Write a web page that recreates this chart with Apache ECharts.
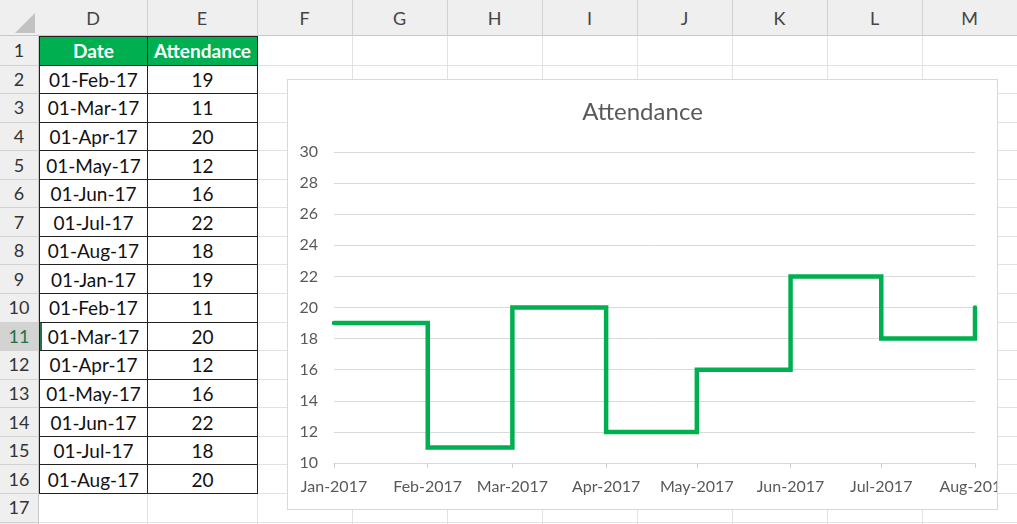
<!DOCTYPE html>
<html>
<head>
<meta charset="utf-8">
<script src="https://cdn.jsdelivr.net/npm/echarts@6/dist/echarts.min.js"></script>
<style>
body{margin:0;width:1017px;height:524px;overflow:hidden;background:#fff;font-family:Lato,sans-serif;position:relative}
#sheet{position:absolute;left:0;top:0;width:1017px;height:524px}
.c{position:absolute;box-sizing:border-box;display:flex;align-items:center;justify-content:center;white-space:nowrap}
#chart{position:absolute;left:287px;top:79px;width:711px;height:431px;box-sizing:border-box;border:1px solid #d9d9d9;background:#fff}
</style>
</head>
<body>
<div id="sheet"></div>
<div id="chart"></div>
<script>
// spreadsheet data (D1:E16)
var tableHeader = ['Date', 'Attendance'];
var tableDates = ['01-Feb-17','01-Mar-17','01-Apr-17','01-May-17','01-Jun-17','01-Jul-17','01-Aug-17',
	'01-Jan-17','01-Feb-17','01-Mar-17','01-Apr-17','01-May-17','01-Jun-17','01-Jul-17','01-Aug-17'];
var tableValues = [19, 11, 20, 12, 16, 22, 18, 19, 11, 20, 12, 16, 22, 18, 20];
var colLetters = ['D','E','F','G','H','I','J','K','L','M'];

// chart data
var months = ['2017-01-01','2017-02-01','2017-03-01','2017-04-01','2017-05-01','2017-06-01','2017-07-01','2017-08-01'];
var attendance = [19, 11, 20, 12, 16, 22, 18, 20];
var monthNames = ['Jan','Feb','Mar','Apr','May','Jun','Jul','Aug','Sep','Oct','Nov','Dec'];

//表格
var sheet = document.getElementById('sheet');
var colX = [0, 39, 147, 257, 352, 447, 542, 637, 732, 827, 922, 1017];
var headH = 36, rowH = 28.56, nRows = 17;
function rowTop(r){ return headH + (r - 1) * rowH; }
function box(x, y, w, h, css, text){
	var d = document.createElement('div');
	d.className = 'c';
	d.style.cssText = 'left:' + x + 'px;top:' + y + 'px;width:' + w + 'px;height:' + h + 'px;' + (css || '');
	if (text != null) d.textContent = text;
	sheet.appendChild(d);
	return d;
}

// headers background
box(0, 0, 1017, headH, 'background:#efefef;border-bottom:1px solid #c8c8c8');
box(0, headH, colX[1], 524 - headH, 'background:#efefef;border-right:1px solid #c8c8c8');
// corner triangle
box(15, 13, 0, 0, 'border-left:20px solid transparent;border-bottom:20px solid #c2c2c2');

// grid lines
for (var i = 2; i < colX.length - 1; i++) {
	box(colX[i], 0, 1, headH, 'background:#d2d2d2');
	box(colX[i], headH, 1, 524 - headH, 'background:#e2e2e2');
}
for (var r = 2; r <= nRows + 1; r++) {
	box(0, rowTop(r), colX[1], 1, 'background:#d2d2d2');
	box(colX[1], rowTop(r), 1017 - colX[1], 1, 'background:#e2e2e2');
}
// column letters
for (var i = 0; i < colLetters.length; i++) {
	box(colX[i + 1], 0, colX[i + 2] - colX[i + 1], headH, 'font-size:18px;color:#444', colLetters[i]);
}
// row numbers
for (var r = 1; r <= nRows; r++) {
	var sel = r === 11;
	box(0, rowTop(r) + (sel ? 1 : 0), colX[1] - 1, rowH - (sel ? 1 : 0),
		'font-size:18px;' + (sel ? 'background:#d3d3d3;color:#217346' : 'color:#333'), String(r));
}

// table
var wD = colX[2] - colX[1], wE = colX[3] - colX[2];
box(colX[1], rowTop(1), wD + 1, rowH + 1, 'background:#00b050;color:#fff;font-weight:bold;font-size:19px;border:1px solid #222', tableHeader[0]);
box(colX[2], rowTop(1), wE + 1, rowH + 1, 'background:#00b050;color:#fff;font-weight:bold;font-size:19px;border:1px solid #222', tableHeader[1]);
for (var k = 0; k < tableDates.length; k++) {
	box(colX[1], rowTop(k + 2), wD + 1, rowH + 1, 'font-size:19px;color:#111;border:1px solid #222', tableDates[k]);
	box(colX[2], rowTop(k + 2), wE + 1, rowH + 1, 'font-size:19px;color:#111;border:1px solid #222', String(tableValues[k]));
}
// selected cell marker D11
box(colX[1] + 1, rowTop(11) + 1, 2, rowH - 1, 'background:#217346');

//阶梯图
var monthTicks = months.map(function(m){ return new Date(m + 'T00:00:00').getTime(); });
var chart = echarts.init(document.getElementById('chart'));
var option = {
	animation: false,
	textStyle: { fontFamily: 'Lato, sans-serif' },
	title: {
		text: 'Attendance',
		left: 'center',
		top: 20,
		padding: 0,
		textStyle: { color: '#595959', fontSize: 24, fontWeight: 'normal' }
	},
	grid: { left: 46, right: 22, top: 72, bottom: 46, outerBoundsMode: 'none', containLabel: false },
	xAxis: {
		type: 'value',
		min: monthTicks[0],
		max: monthTicks[monthTicks.length - 1],
		axisLine: { show: true, lineStyle: { color: '#d9d9d9' } },
		axisTick: { show: true, customValues: monthTicks, length: 5, lineStyle: { color: '#d0d0d0' } },
		axisLabel: {
			customValues: monthTicks,
			color: '#595959',
			fontSize: 16,
			margin: 16,
			hideOverlap: false,
			formatter: function(v){
				var d = new Date(v);
				return monthNames[d.getMonth()] + '-' + d.getFullYear();
			}
		},
		splitLine: { show: false }
	},
	yAxis: {
		type: 'value',
		min: 10,
		max: 30,
		interval: 2,
		axisLine: { show: false },
		axisTick: { show: false },
		axisLabel: { color: '#595959', fontSize: 16, margin: 16 },
		splitLine: { lineStyle: { color: '#d9d9d9', width: 1 } }
	},
	series: [
		{
			name: 'Attendance',
			type: 'line',
			step: 'end',
			showSymbol: false,
			symbol: 'none',
			data: months.map(function(m, i){ return [monthTicks[i], attendance[i]]; }),
			lineStyle: { color: '#00b050', width: 4.5, cap: 'round', join: 'miter' },
			itemStyle: { color: '#00b050' }
		}
	]
};
chart.setOption(option);
</script>
</body>
</html>
